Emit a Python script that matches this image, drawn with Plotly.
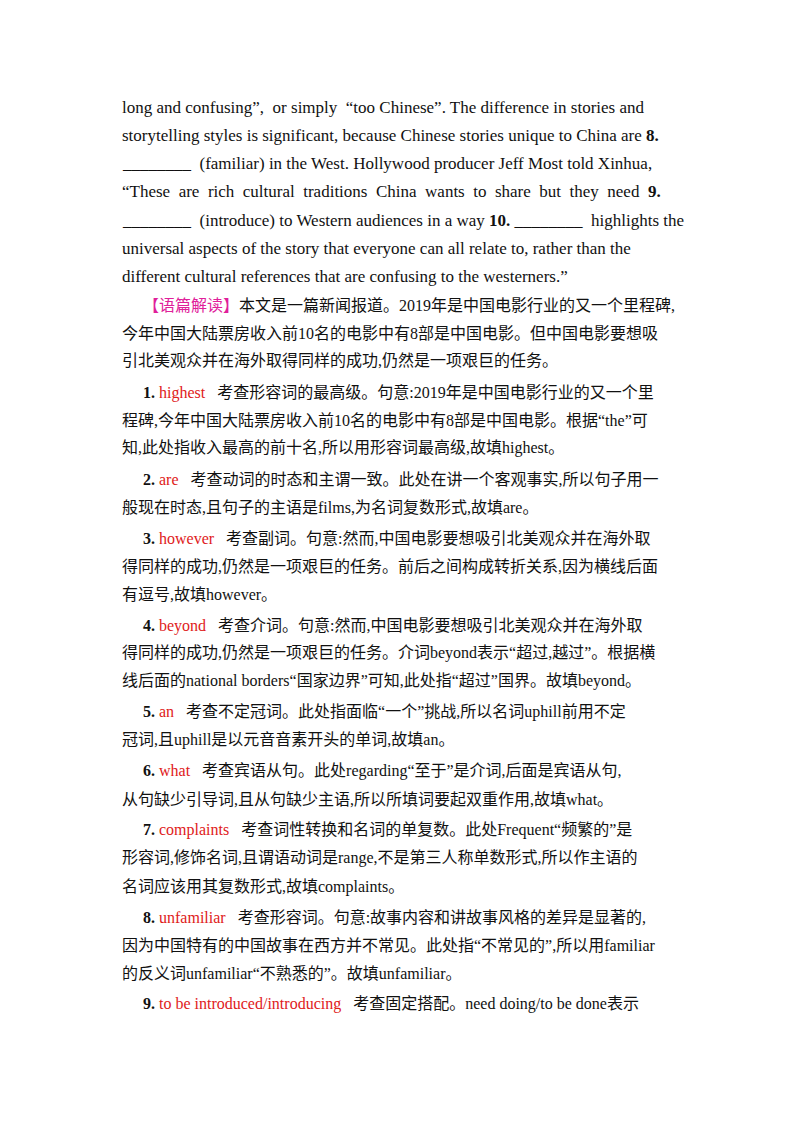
import plotly.graph_objects as go

R = "<span style='color:#e0201a'>{}</span>"
M = "<span style='color:#e0209a'>{}</span>"

line_y = [107, 135, 163, 191, 220, 248, 276, 305, 333, 360,
          392, 420, 448, 479, 507, 538, 566, 594, 625, 653, 681,
          712, 740, 771, 799, 830, 858, 886, 917, 945, 973, 1004]
line_x = [122]*7 + [143, 122, 122] + [143, 122, 122, 143, 122, 143, 122, 122, 143, 122, 122,
          143, 122, 143, 122, 143, 122, 122, 143, 122, 122, 143]
line_size = [17]*7 + [16]*25
line_text = [
    "long and confusing”,  or simply  “too Chinese”. The difference in stories and",
    "storytelling styles is significant, because Chinese stories unique to China are <b>8.</b>",
    "________  (familiar) in the West. Hollywood producer Jeff Most told Xinhua,",
    "“These  are  rich  cultural  traditions  China  wants  to  share  but  they  need  <b>9.</b>",
    "________  (introduce) to Western audiences in a way <b>10.</b> ________  highlights the",
    "universal aspects of the story that everyone can all relate to, rather than the",
    "different cultural references that are confusing to the westerners.”",
    M.format("【语篇解读】") + "本文是一篇新闻报道。2019年是中国电影行业的又一个里程碑,",
    "今年中国大陆票房收入前10名的电影中有8部是中国电影。但中国电影要想吸",
    "引北美观众并在海外取得同样的成功,仍然是一项艰巨的任务。",
    "<b>1.</b> " + R.format("highest") + "   考查形容词的最高级。句意:2019年是中国电影行业的又一个里",
    "程碑,今年中国大陆票房收入前10名的电影中有8部是中国电影。根据“the”可",
    "知,此处指收入最高的前十名,所以用形容词最高级,故填highest。",
    "<b>2.</b> " + R.format("are") + "   考查动词的时态和主谓一致。此处在讲一个客观事实,所以句子用一",
    "般现在时态,且句子的主语是films,为名词复数形式,故填are。",
    "<b>3.</b> " + R.format("however") + "   考查副词。句意:然而,中国电影要想吸引北美观众并在海外取",
    "得同样的成功,仍然是一项艰巨的任务。前后之间构成转折关系,因为横线后面",
    "有逗号,故填however。",
    "<b>4.</b> " + R.format("beyond") + "   考查介词。句意:然而,中国电影要想吸引北美观众并在海外取",
    "得同样的成功,仍然是一项艰巨的任务。介词beyond表示“超过,越过”。根据横",
    "线后面的national borders“国家边界”可知,此处指“超过”国界。故填beyond。",
    "<b>5.</b> " + R.format("an") + "   考查不定冠词。此处指面临“一个”挑战,所以名词uphill前用不定",
    "冠词,且uphill是以元音音素开头的单词,故填an。",
    "<b>6.</b> " + R.format("what") + "   考查宾语从句。此处regarding“至于”是介词,后面是宾语从句,",
    "从句缺少引导词,且从句缺少主语,所以所填词要起双重作用,故填what。",
    "<b>7.</b> " + R.format("complaints") + "   考查词性转换和名词的单复数。此处Frequent“频繁的”是",
    "形容词,修饰名词,且谓语动词是range,不是第三人称单数形式,所以作主语的",
    "名词应该用其复数形式,故填complaints。",
    "<b>8.</b> " + R.format("unfamiliar") + "   考查形容词。句意:故事内容和讲故事风格的差异是显著的,",
    "因为中国特有的中国故事在西方并不常见。此处指“不常见的”,所以用familiar",
    "的反义词unfamiliar“不熟悉的”。故填unfamiliar。",
    "<b>9.</b> " + R.format("to be introduced/introducing") + "   考查固定搭配。need doing/to be done表示",
]

X_SHIFT, Y_SHIFT = -10, -8

fig = go.Figure()
for x, y, s, t in zip(line_x, line_y, line_size, line_text):
    fig.add_annotation(x=x + X_SHIFT, y=y + Y_SHIFT, text=t, xref="x", yref="y",
                       xanchor="left", yanchor="middle", showarrow=False,
                       font=dict(family="Liberation Serif, Noto Sans CJK SC", size=s, color="#111"))
fig.update_xaxes(range=[0, 800], visible=False)
fig.update_yaxes(range=[1132, 0], visible=False)
fig.update_layout(width=800, height=1132, margin=dict(l=0, r=0, t=0, b=0),
                  plot_bgcolor="white", paper_bgcolor="white", showlegend=False)
fig.write_html("out.html")
